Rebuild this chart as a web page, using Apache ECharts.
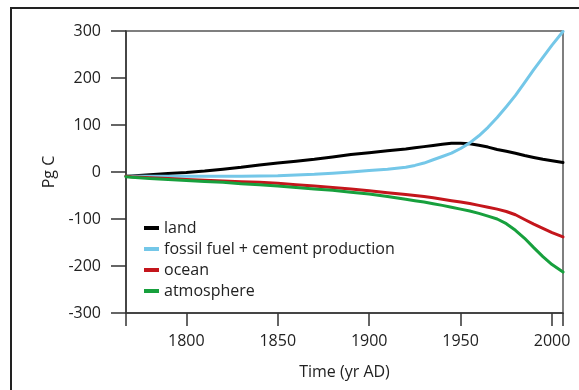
<!DOCTYPE html>
<html>
<head>
<meta charset="utf-8">
<script src="https://cdn.jsdelivr.net/npm/echarts@6/dist/echarts.min.js"></script>
<style>
  html, body { margin: 0; padding: 0; background: #fff; }
  #chart { width: 579px; height: 390px; }
</style>
</head>
<body>
<div id="chart"></div>
<script>
// Cumulative carbon budget since the industrial era (Pg C)
const years = [1767, 1770, 1780, 1790, 1800, 1810, 1820, 1830, 1840, 1850, 1860, 1870, 1880, 1890,
               1900, 1910, 1920, 1925, 1930, 1935, 1940, 1945, 1950, 1955, 1960, 1965, 1970,
               1975, 1980, 1985, 1990, 1995, 2000, 2006];
const land = [-9, -8.5, -6, -3, -1, 2, 6, 10, 15, 19, 23, 27, 32, 37,
              41, 45, 49, 51.5, 54, 56.5, 59, 61, 61, 60, 57, 53, 48,
              44, 40, 35, 31, 27, 24, 20];
const fossil = [-9, -9, -9, -9, -9, -9, -9, -9, -8.5, -8, -6.5, -5, -2.5, 0,
                3, 6, 10, 14, 19, 26, 33, 40, 50, 62, 77, 95, 116,
                139, 163, 190, 218, 244, 270, 299];
const ocean = [-9, -10, -12, -14, -16, -17.5, -19, -20.5, -22, -24, -27, -30, -33, -36,
               -40, -44, -48, -50, -52, -55, -58, -61, -64, -67, -71, -75, -79,
               -84, -91, -101, -111, -120, -129, -138];
const atmosphere = [-10, -11, -14, -16, -18, -20, -22, -25, -27, -30, -33, -36, -39, -43,
                    -47, -52, -58, -61, -64, -67.5, -71, -75, -79, -83, -88, -94, -100,
                    -110, -124, -141, -161, -180, -197, -213];

const seriesNames = ['land', 'fossil fuel + cement production', 'ocean', 'atmosphere'];
const seriesValues = [land, fossil, ocean, atmosphere];
const seriesColors = ['#000000', '#74c7e8', '#c4161c', '#17a03d'];

const xTickValues = [1767, 1800, 1850, 1900, 1950, 2000, 2006];
const xLabelValues = [1800, 1850, 1900, 1950, 2000];

const FONT = '"Open Sans", "Noto Sans", sans-serif';
const chart = echarts.init(document.getElementById('chart'), null, { renderer: 'canvas' });

chart.setOption({
  animation: false,
  backgroundColor: '#ffffff',
  textStyle: { fontFamily: FONT },
  graphic: [{
    type: 'rect',
    shape: { x: 11, y: 8, width: 620, height: 420 },
    style: { fill: 'none', stroke: '#222', lineWidth: 2 },
    silent: true
  }],
  grid: {
    left: 126, top: 31, right: 16, bottom: 77,
    show: true, borderColor: '#555', borderWidth: 1.5, backgroundColor: 'transparent'
  },
  legend: {
    orient: 'vertical',
    left: 139, top: 215,
    itemWidth: 15, itemHeight: 4, itemGap: 5,
    icon: 'rect',
    data: seriesNames,
    textStyle: { fontFamily: FONT, fontSize: 16, color: '#222', lineHeight: 16 }
  },
  xAxis: {
    type: 'value',
    min: 1767, max: 2006,
    name: 'Time (yr AD)',
    nameLocation: 'middle',
    nameGap: 51,
    nameTextStyle: { fontFamily: FONT, fontSize: 16, color: '#222' },
    axisLine: { show: true, onZero: false, lineStyle: { color: '#333', width: 1.5 } },
    axisTick: { show: true, length: 13, inside: false, customValues: xTickValues, lineStyle: { color: '#333', width: 1.5 } },
    axisLabel: {
      customValues: xLabelValues, fontSize: 16, color: '#222', margin: 20, fontFamily: FONT,
      formatter: v => String(v)
    },
    splitLine: { show: false }
  },
  yAxis: {
    type: 'value',
    min: -300, max: 300, interval: 100,
    name: 'Pg C',
    nameLocation: 'middle',
    nameGap: 66,
    nameRotate: 90,
    nameTextStyle: { fontFamily: FONT, fontSize: 16, color: '#222' },
    axisLine: { show: true, onZero: false, lineStyle: { color: '#333', width: 1.5 } },
    axisTick: { show: true, length: 15, inside: false, lineStyle: { color: '#333', width: 1.5 } },
    axisLabel: { fontSize: 16, color: '#222', margin: 25, fontFamily: FONT },
    splitLine: { show: false }
  },
  series: seriesNames.map((name, i) => ({
    name: name,
    type: 'line',
    smooth: false,
    showSymbol: false,
    symbol: 'none',
    color: seriesColors[i],
    lineStyle: { color: seriesColors[i], width: 3, join: 'round', cap: 'round' },
    data: years.map((y, j) => [y, seriesValues[i][j]])
  }))
});
</script>
</body>
</html>
